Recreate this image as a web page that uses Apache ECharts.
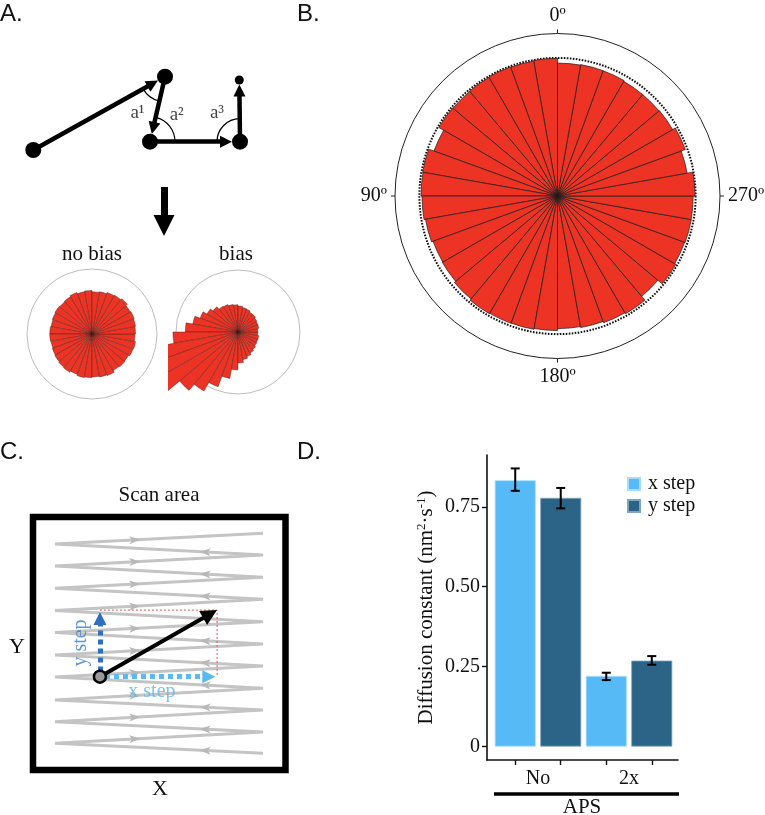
<!DOCTYPE html>
<html><head><meta charset="utf-8">
<script src="https://cdn.jsdelivr.net/npm/echarts@6/dist/echarts.min.js"></script>
<style>html,body{margin:0;padding:0;background:#fff}#chart{width:765px;height:815px}</style>
</head><body><div id="chart"></div>
<script>
// ===== Angular histograms: 10° bins, counter-clockwise from 0° at top (radius in % of outer ring)
const angleBins = [0,10,20,30,40,50,60,70,80,90,100,110,120,130,140,150,160,170,180,190,200,210,220,230,240,250,260,270,280,290,300,310,320,330,340,350];
const noBiasRadius = [67,66,68,66,65,66,65,64,65,65,64,65,66,67,68,66,68,67,66,67,68,65,66,65,67,68,66,67,68,69,68,71,69,68,66,65];
const biasRadius = [44,45,47,48,53,58,65,74,85,105,126,142,148,123,110,94,76,61,50,45,42,39,37,35,34,34,32,32,34,34,35,37,37,39,40,42];
const pooledRadius = [84.7,84.3,84.6,84.3,84.0,84.3,80.9,84.3,84.0,83.4,82.5,81.5,81.8,82.8,83.7,83.4,83.3,82.8,81.6,82.2,83.0,83.7,80.6,84.1,83.3,83.6,83.5,84.6,81.0,83.7,81.8,81.5,81.5,82.0,82.1,81.8];
const uniformLevel = 85;
const polarTickLabels = ['0º','90º','180º','270º'];

// ===== Panel A schematic (diagram units)
const walkX = [1.33, 14.5, 13.0, 22.0, 21.93];
const walkY = [10.0, 17.33, 10.83, 10.83, 17.0];
const walkDotSize = [16, 16, 16, 16, 9];
const turnLabels = ['a¹', 'a²', 'a³'];
const turnLabelX = [11.75, 15.67, 19.7];
const turnLabelY = [13.7, 13.5, 13.7];
const turnArcRadius = [25, 25, 23];
const downArrowFrom = [14.4, 6.3];
const downArrowTip = [14.4, 1.4];

// ===== Panel C schematic (diagram units, box = 0..100)
const scanLeftX = 8.7, scanRightX = 91.1;
const scanLeftY = [89.3, 80.6, 71.8, 63.0, 54.3, 45.5, 36.8, 27.7, 19.1, 10.6];
const scanRightY = [93.6, 85.0, 76.2, 67.5, 58.6, 49.8, 41.1, 32.3, 23.7, 15.0, 6.6];
const particleStart = [26.5, 36.9];
const particleEnd = [72.9, 63.2];
const yStepTip = [26.5, 62.5];
const xStepTip = [72.2, 36.9];
const stepLabelNames = ['x step', 'y step'];
const stepLabelX = [47.1, 19.1];
const stepLabelY = [30.8, 50.2];

// ===== Panel D
const apsGroups = ['No', '2x'];
const groupPos = [1, 2];
const xStepMean = [0.833, 0.221];
const xStepLow = [0.800, 0.208];
const xStepHigh = [0.870, 0.231];
const yStepMean = [0.778, 0.269];
const yStepLow = [0.745, 0.256];
const yStepHigh = [0.809, 0.283];
const dTicks = [0, 0.25, 0.5, 0.75];

// ---------------------------------------------------------------
const SERIF = '"Liberation Serif", "Times New Roman", serif';
const SANS = '"Liberation Sans", Arial, sans-serif';
const RED = '#ed3424';
const LIGHT = '#56baf6';
const DARK = '#2c6487';
const A_PX = 10;          // px per unit, panel A grid
const C_UX = 2.525, C_UY = 2.53; // px per unit, panel C grid
const BAR_W = 41, BAR_GAP_PX = 4.5;
const DODGE_PX = (BAR_W + BAR_GAP_PX) / 2;
const DODGE_UNITS = DODGE_PX / 91;

function backOff(from, to, px, ux, uy) {
  const dxp = (to[0] - from[0]) * ux, dyp = (to[1] - from[1]) * uy;
  const len = Math.hypot(dxp, dyp);
  return [to[0] - dxp / len * px / ux, to[1] - dyp / len * px / uy];
}

// Panel A arrows
const headA = 12;
const walkArrows = [];
for (let i = 0; i < walkX.length - 1; i++) {
  const f = [walkX[i], walkY[i]], t = [walkX[i + 1], walkY[i + 1]];
  walkArrows.push({ coords: [f, backOff(f, t, walkDotSize[i + 1] / 2 + headA / 2, A_PX, A_PX)] });
}
const walkDots = walkX.map((x, i) => ({ value: [x, walkY[i]], symbolSize: walkDotSize[i] }));
const turnArcs = [1, 2, 3].map((v, k) => [walkX[v], walkY[v], walkX[v - 1], walkY[v - 1], walkX[v + 1], walkY[v + 1], turnArcRadius[k]]);
const turnLabelData = turnLabels.map((n, i) => ({ name: n, value: [turnLabelX[i], turnLabelY[i]] }));
const headDown = 21;
const downArrow = [{ coords: [downArrowFrom, backOff(downArrowFrom, downArrowTip, headDown / 2, A_PX, A_PX)] }];

// Panel C zigzag
const zig = [];
for (let i = 0; i < scanRightY.length; i++) {
  zig.push([scanRightX, scanRightY[i]]);
  if (i < scanLeftY.length) zig.push([scanLeftX, scanLeftY[i]]);
}
const scanMarks = [];
for (let i = 0; i < scanLeftY.length; i++) {
  // forward: left -> right
  const L = [scanLeftX, scanLeftY[i]], R = [scanRightX, scanRightY[i]];
  let fx = 0.41;
  let ang = Math.atan2((R[1] - L[1]) * C_UY, (R[0] - L[0]) * C_UX) * 180 / Math.PI;
  scanMarks.push({ value: [L[0] + fx * (R[0] - L[0]), L[1] + fx * (R[1] - L[1])], symbolRotate: ang - 90 });
  // backward: lower right -> left
  const R2 = [scanRightX, scanRightY[i + 1]];
  const bx = 0.695;
  ang = Math.atan2((L[1] - R2[1]) * C_UY, (L[0] - R2[0]) * C_UX) * 180 / Math.PI;
  scanMarks.push({ value: [L[0] + bx * (R2[0] - L[0]), L[1] + bx * (R2[1] - L[1])], symbolRotate: ang - 90 });
}
const headBlack = 16, headBlue = 13;
const blackArrow = [{ coords: [particleStart, backOff(particleStart, particleEnd, headBlack / 2, C_UX, C_UY)] }];
const yArrow = [{ coords: [[particleStart[0], particleStart[1] + 2], backOff(particleStart, yStepTip, headBlue / 2, C_UX, C_UY)] }];
const xArrow = [{ coords: [[particleStart[0] + 2, particleStart[1]], backOff(particleStart, xStepTip, headBlue / 2, C_UX, C_UY)] }];
const redBox = [[particleStart[0], particleEnd[1]], [particleEnd[0], particleEnd[1]], [particleEnd[0], particleStart[1]]];

// Panel D
const xBars = groupPos.map((g, i) => [g, xStepMean[i]]);
const yBars = groupPos.map((g, i) => [g, yStepMean[i]]);
const errData = [];
groupPos.forEach((g, i) => {
  errData.push([g, xStepLow[i], xStepHigh[i], -1]);
  errData.push([g, yStepLow[i], yStepHigh[i], 1]);
});
const dTickPos = [];
groupPos.forEach(g => { dTickPos.push(g - DODGE_UNITS, g + DODGE_UNITS); });

const chart = echarts.init(document.getElementById('chart'));
const polarHidden = { show: false, splitLine: { show: false }, axisLine: { show: false }, axisTick: { show: false }, axisLabel: { show: false } };
const bRadius = 162.5;

const option = {
  animation: false,
  backgroundColor: '#fff',
  polar: [
    { center: [557.5, 196], radius: bRadius },
    { center: [557.5, 196], radius: bRadius },
    { center: [557.5, 196], radius: bRadius * uniformLevel / 100 },
    { center: [92, 334], radius: 65 },
    { center: [238, 332], radius: 62 }
  ],
  angleAxis: [
    { polarIndex: 0, type: 'category', data: angleBins, startAngle: 90, clockwise: false,
      axisLine: { show: false }, axisTick: { show: false }, axisLabel: { show: false }, splitLine: { show: false } },
    { polarIndex: 1, type: 'value', min: 0, max: 360, interval: 90, startAngle: 90, clockwise: false,
      axisLine: { lineStyle: { color: '#222', width: 1 } },
      axisTick: { length: 4, lineStyle: { color: '#222', width: 1 } },
      axisLabel: { margin: 8, fontFamily: SERIF, fontSize: 20, color: '#111',
        formatter: v => polarTickLabels[Math.round(v / 90)] || '' },
      splitLine: { show: false } },
    { polarIndex: 2, type: 'value', min: 0, max: 360, startAngle: 90, clockwise: false,
      axisLine: { lineStyle: { color: '#111', width: 2, type: [1.6, 1.4] } },
      axisTick: { show: false }, axisLabel: { show: false }, splitLine: { show: false } },
    { polarIndex: 3, type: 'category', data: angleBins, startAngle: 90, clockwise: false, z: 20,
      axisLine: { lineStyle: { color: '#aaa', width: 0.8 } },
      axisTick: { show: false }, axisLabel: { show: false }, splitLine: { show: false } },
    { polarIndex: 4, type: 'category', data: angleBins, startAngle: 90, clockwise: false,
      axisLine: { lineStyle: { color: '#aaa', width: 0.8 } },
      axisTick: { show: false }, axisLabel: { show: false }, splitLine: { show: false } }
  ],
  radiusAxis: [0, 1, 2, 3, 4].map(i => Object.assign({ polarIndex: i, type: 'value', min: 0, max: 100 }, polarHidden)),
  grid: [
    { left: 20, top: 60, width: 240, height: 190, show: false },
    { left: 33, top: 517, width: 252.5, height: 253, show: true, borderColor: '#000', borderWidth: 6.5, backgroundColor: 'transparent' },
    { left: 487, top: 455, width: 191, height: 305, show: false }
  ],
  xAxis: [
    { gridIndex: 0, type: 'value', min: 0, max: 24, show: false },
    { gridIndex: 1, type: 'value', min: 0, max: 100, show: false },
    { gridIndex: 2, type: 'value', min: 0.44, max: 2.538,
      axisLine: { show: true, onZero: false, lineStyle: { color: '#111', width: 1.6 } },
      axisTick: { show: true, customValues: dTickPos, length: 5, lineStyle: { color: '#111', width: 1.4 } },
      axisLabel: { customValues: groupPos, formatter: v => apsGroups[Math.round(v) - 1], fontFamily: SERIF, fontSize: 20, color: '#111', margin: 9 },
      splitLine: { show: false } }
  ],
  yAxis: [
    { gridIndex: 0, type: 'value', min: 0, max: 19, show: false },
    { gridIndex: 1, type: 'value', min: 0, max: 100, show: false },
    { gridIndex: 2, type: 'value', min: -0.042, max: 0.912,
      name: '{t|Diffusion constant (nm}{s|2}{t|·s}{s|-1}{t|)}',
      nameLocation: 'middle', nameGap: 50, nameRotate: 90,
      nameTextStyle: { rich: {
        t: { fontFamily: SERIF, fontSize: 21, color: '#111', lineHeight: 22 },
        s: { fontFamily: SERIF, fontSize: 13, color: '#111', verticalAlign: 'top', lineHeight: 22 } } },
      axisLine: { show: true, onZero: false, lineStyle: { color: '#111', width: 1.6 } },
      axisTick: { show: true, customValues: dTicks, length: 5, lineStyle: { color: '#111', width: 1.4 } },
      axisLabel: { customValues: dTicks, formatter: v => v === 0 ? '0' : v.toFixed(2), fontFamily: SERIF, fontSize: 20, color: '#111', margin: 7 },
      splitLine: { show: false } }
  ],
  legend: {
    data: ['x step', 'y step'], orient: 'vertical', left: 622, top: 469,
    itemWidth: 12, itemHeight: 12, itemGap: 2, icon: 'rect',
    textStyle: { fontFamily: SERIF, fontSize: 20, color: '#111', lineHeight: 20, padding: [0, 0, 0, 3] }
  },
  series: [
    { type: 'bar', coordinateSystem: 'polar', polarIndex: 0, data: pooledRadius, barCategoryGap: '0%',
      itemStyle: { color: RED, borderColor: '#1a1a1a', borderWidth: 0.7 } },
    { type: 'bar', coordinateSystem: 'polar', polarIndex: 3, data: noBiasRadius, barCategoryGap: '0%',
      itemStyle: { color: RED, borderColor: '#3a1a1a', borderWidth: 0.4 } },
    { type: 'bar', coordinateSystem: 'polar', polarIndex: 4, data: biasRadius, barCategoryGap: '0%', clip: false,
      itemStyle: { color: RED, borderColor: '#3a1a1a', borderWidth: 0.4 } },
    // Panel A
    { type: 'lines', coordinateSystem: 'cartesian2d', xAxisIndex: 0, yAxisIndex: 0, z: 4,
      symbol: ['none', 'triangle'], symbolSize: headA,
      lineStyle: { color: '#000', width: 4.5, opacity: 1 }, data: walkArrows },
    { type: 'lines', coordinateSystem: 'cartesian2d', xAxisIndex: 0, yAxisIndex: 0, z: 4,
      symbol: ['none', 'triangle'], symbolSize: headDown,
      lineStyle: { color: '#000', width: 7, opacity: 1 }, data: downArrow },
    { type: 'scatter', xAxisIndex: 0, yAxisIndex: 0, z: 5, symbol: 'circle',
      itemStyle: { color: '#000', opacity: 1 }, data: walkDots },
    { type: 'custom', xAxisIndex: 0, yAxisIndex: 0, z: 5, data: turnArcs,
      renderItem: (params, api) => {
        const v = api.coord([api.value(0), api.value(1)]);
        const a = api.coord([api.value(2), api.value(3)]);
        const b = api.coord([api.value(4), api.value(5)]);
        const r = api.value(6);
        const angA = Math.atan2(a[1] - v[1], a[0] - v[0]);
        const angB = Math.atan2(b[1] - v[1], b[0] - v[0]);
        let d = angB - angA;
        while (d > Math.PI) d -= 2 * Math.PI;
        while (d <= -Math.PI) d += 2 * Math.PI;
        const s = d > 0 ? angA : angB;
        return { type: 'arc', shape: { cx: v[0], cy: v[1], r: r, startAngle: s, endAngle: s + Math.abs(d), clockwise: true },
          style: { stroke: '#000', lineWidth: 1.2, fill: null } };
      } },
    { type: 'scatter', xAxisIndex: 0, yAxisIndex: 0, symbolSize: 0, data: turnLabelData, z: 6,
      label: { show: true, position: 'inside', formatter: '{b}', fontFamily: SERIF, fontSize: 19, color: '#111' } },
    // Panel C
    { type: 'line', xAxisIndex: 1, yAxisIndex: 1, data: zig, showSymbol: false, z: 2,
      lineStyle: { color: '#c4c4c4', width: 3 } },
    { type: 'scatter', xAxisIndex: 1, yAxisIndex: 1, symbol: 'arrow', symbolSize: [6, 11], z: 3,
      itemStyle: { color: '#b8b8b8', opacity: 1 }, data: scanMarks },
    { type: 'line', xAxisIndex: 1, yAxisIndex: 1, data: redBox, showSymbol: false, z: 3,
      lineStyle: { color: '#e8504a', width: 1, type: [2, 2] } },
    { type: 'lines', coordinateSystem: 'cartesian2d', xAxisIndex: 1, yAxisIndex: 1, z: 5,
      symbol: ['none', 'triangle'], symbolSize: headBlack,
      lineStyle: { color: '#000', width: 4, opacity: 1 }, data: blackArrow },
    { type: 'lines', coordinateSystem: 'cartesian2d', xAxisIndex: 1, yAxisIndex: 1, z: 4,
      symbol: ['none', 'triangle'], symbolSize: headBlue,
      lineStyle: { color: '#2f6fc0', width: 5, type: [5, 4], opacity: 1 }, data: yArrow },
    { type: 'lines', coordinateSystem: 'cartesian2d', xAxisIndex: 1, yAxisIndex: 1, z: 4,
      symbol: ['none', 'triangle'], symbolSize: headBlue,
      lineStyle: { color: '#5cb8f0', width: 5, type: [5, 4], opacity: 1 }, data: xArrow },
    { type: 'scatter', xAxisIndex: 1, yAxisIndex: 1, symbol: 'circle', symbolSize: 12, z: 6,
      itemStyle: { color: '#9a9a9a', borderColor: '#000', borderWidth: 2.5, opacity: 1 }, data: [particleStart] },
    { type: 'scatter', xAxisIndex: 1, yAxisIndex: 1, symbolSize: 0, z: 6,
      data: stepLabelNames.map((n, i) => ({ name: n, value: [stepLabelX[i], stepLabelY[i]],
        label: { rotate: i === 1 ? 90 : 0, color: i === 1 ? '#3a7acb' : '#5ab6ee' } })),
      label: { show: true, position: 'inside', formatter: '{b}', fontFamily: SERIF, fontSize: 20 } },
    // Panel D
    { name: 'x step', type: 'bar', xAxisIndex: 2, yAxisIndex: 2, data: xBars, barWidth: BAR_W, barGap: (BAR_GAP_PX / BAR_W * 100) + '%',
      itemStyle: { color: LIGHT, borderColor: '#a9dcfb', borderWidth: 0.8 } },
    { name: 'y step', type: 'bar', xAxisIndex: 2, yAxisIndex: 2, data: yBars, barWidth: BAR_W, barGap: (BAR_GAP_PX / BAR_W * 100) + '%',
      itemStyle: { color: DARK, borderColor: '#7fa6c0', borderWidth: 0.8 } },
    { type: 'custom', xAxisIndex: 2, yAxisIndex: 2, z: 5, data: errData,
      renderItem: (params, api) => {
        const lo = api.coord([api.value(0), api.value(1)]);
        const hi = api.coord([api.value(0), api.value(2)]);
        const cx = lo[0] + api.value(3) * DODGE_PX;
        const cap = 4.5, st = { stroke: '#000', lineWidth: 2 };
        return { type: 'group', children: [
          { type: 'line', shape: { x1: cx, y1: lo[1], x2: cx, y2: hi[1] }, style: st },
          { type: 'line', shape: { x1: cx - cap, y1: lo[1], x2: cx + cap, y2: lo[1] }, style: st },
          { type: 'line', shape: { x1: cx - cap, y1: hi[1], x2: cx + cap, y2: hi[1] }, style: st }
        ] };
      } }
  ],
  graphic: [
    { type: 'rect', shape: { x: 140, y: 333, width: 28, height: 70 }, style: { fill: '#fff' }, z: 10 },
    { type: 'text', x: 0, y: 14, style: { text: 'A.', font: '24px ' + SANS, fill: '#111', align: 'left', verticalAlign: 'middle' } },
    { type: 'text', x: 297, y: 14, style: { text: 'B.', font: '24px ' + SANS, fill: '#111', align: 'left', verticalAlign: 'middle' } },
    { type: 'text', x: 0, y: 452, style: { text: 'C.', font: '24px ' + SANS, fill: '#111', align: 'left', verticalAlign: 'middle' } },
    { type: 'text', x: 297, y: 452, style: { text: 'D.', font: '24px ' + SANS, fill: '#111', align: 'left', verticalAlign: 'middle' } },
    { type: 'text', x: 92, y: 254, style: { text: 'no bias', font: '21px ' + SERIF, fill: '#111', align: 'center', verticalAlign: 'middle' } },
    { type: 'text', x: 236, y: 254, style: { text: 'bias', font: '21px ' + SERIF, fill: '#111', align: 'center', verticalAlign: 'middle' } },
    { type: 'text', x: 159, y: 495, style: { text: 'Scan area', font: '21px ' + SERIF, fill: '#111', align: 'center', verticalAlign: 'middle' } },
    { type: 'text', x: 17, y: 647, style: { text: 'Y', font: '22px ' + SERIF, fill: '#111', align: 'center', verticalAlign: 'middle' } },
    { type: 'text', x: 160, y: 789, style: { text: 'X', font: '22px ' + SERIF, fill: '#111', align: 'center', verticalAlign: 'middle' } },
    { type: 'line', shape: { x1: 494, y1: 794, x2: 679, y2: 794 }, style: { stroke: '#000', lineWidth: 3.5 } },
    { type: 'text', x: 582, y: 807, style: { text: 'APS', font: '21px ' + SERIF, fill: '#111', align: 'center', verticalAlign: 'middle' } }
  ]
};
chart.setOption(option);
</script>
</body></html>
